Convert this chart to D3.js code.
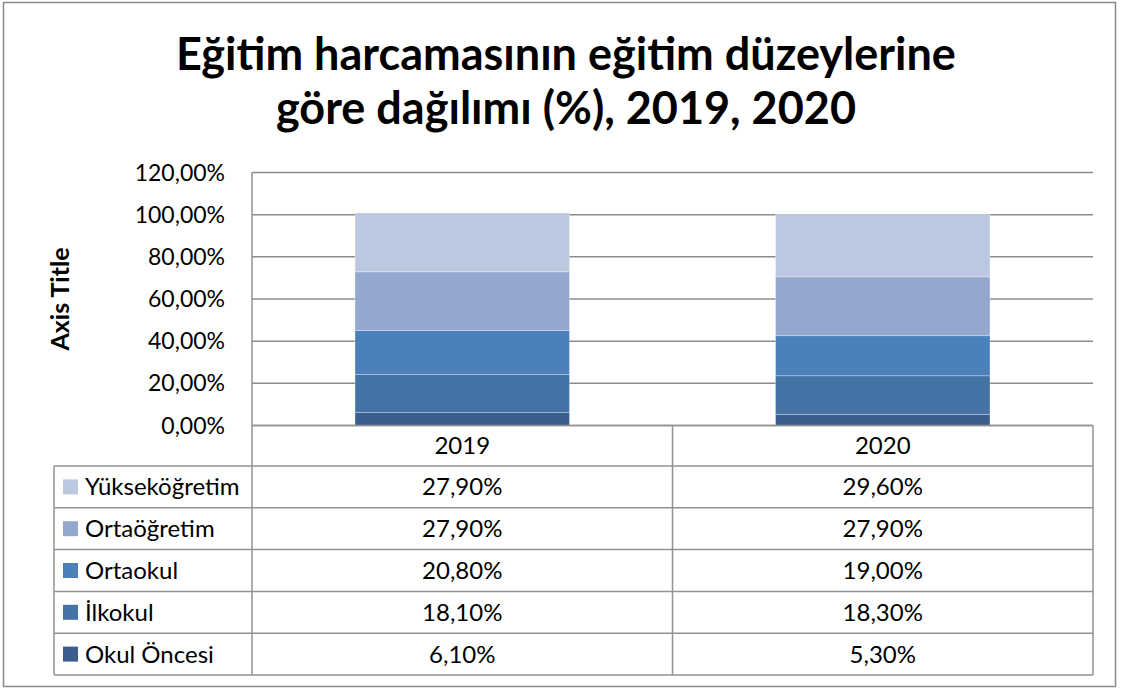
<!DOCTYPE html>
<html lang="tr">
<head>
<meta charset="UTF-8">
<title>Eğitim harcaması</title>
<script src="https://d3js.org/d3.v7.min.js"></script>
<style>
  body { margin: 0; background: #fff; font-family: Lato, "Open Sans", sans-serif; }
  svg { display: block; }
  .grid line { stroke: #8c8c8c; stroke-width: 1.5; }
  .tick-label { font-size: 23px; fill: #000; }
  .cell { font-size: 24px; fill: #000; }
  .tbl { stroke: #929292; stroke-width: 1.5; fill: none; }
</style>
</head>
<body>
<svg id="chart" width="1123" height="690"></svg>
<script>
// data
const years = ["2019", "2020"];
const series = ["Okul Öncesi", "İlkokul", "Ortaokul", "Ortaöğretim", "Yükseköğretim"];
const values2019 = [6.1, 18.1, 20.8, 27.9, 27.9];
const values2020 = [5.3, 18.3, 19.0, 27.9, 29.6];
const colors = ["#3b5e8e", "#4573a6", "#4b80ba", "#94a8cf", "#bcc8e0"];
const yTicks = [0, 20, 40, 60, 80, 100, 120];

const fmt = v => d3.format(".2f")(v).replace(".", ",") + "%";

const svg = d3.select("#chart");

// outer frame
svg.append("rect")
   .attr("x", 3.5).attr("y", 2.5)
   .attr("width", 1112).attr("height", 684)
   .attr("fill", "#fff").attr("stroke", "#8a8a8a").attr("stroke-width", 1.5);

// title
const title = svg.append("text")
   .attr("text-anchor", "middle")
   .attr("font-weight", "bold")
   .attr("font-size", 45)
   .attr("fill", "#000");
title.append("tspan").attr("x", 566).attr("y", 70).text("Eğitim harcamasının eğitim düzeylerine");
title.append("tspan").attr("x", 566).attr("y", 124).text("göre dağılımı (%), 2019, 2020");

const plot = {left: 252, right: 1093, top: 172.5, bottom: 425.5};
const tableLeft = 54;
const rowH = 41.8;

const x = d3.scaleBand().domain(years).range([plot.left, plot.right]).paddingInner(0.49).paddingOuter(0.245);
const band = d3.scaleBand().domain(years).range([plot.left, plot.right]);
const y = d3.scaleLinear().domain([0, 120]).range([plot.bottom, plot.top]);

// gridlines
svg.append("g").attr("class", "grid")
   .selectAll("line").data(yTicks).join("line")
   .attr("x1", plot.left).attr("x2", plot.right)
   .attr("y1", d => y(d)).attr("y2", d => y(d));

// y tick labels
svg.append("g").selectAll("text").data(yTicks).join("text")
   .attr("class", "tick-label")
   .attr("x", 225).attr("y", d => y(d) + 8)
   .attr("text-anchor", "end")
   .text(d => fmt(d));

// axis title
svg.append("text")
   .attr("transform", `translate(69, ${(plot.top + plot.bottom) / 2}) rotate(-90)`)
   .attr("text-anchor", "middle")
   .attr("font-weight", "bold")
   .attr("font-size", 25)
   .text("Axis Title");

// stacked bars
const rows = years.map((yr, i) => {
  const vals = i === 0 ? values2019 : values2020;
  const o = {year: yr};
  series.forEach((s, j) => o[s] = vals[j]);
  return o;
});
const stacked = d3.stack().keys(series)(rows);

svg.append("g").selectAll("g").data(stacked).join("g")
   .attr("fill", (d, i) => colors[i])
   .selectAll("rect").data(d => d).join("rect")
   .attr("x", d => x(d.data.year))
   .attr("width", x.bandwidth())
   .attr("y", d => y(d[1]))
   .attr("height", d => y(d[0]) - y(d[1]))
   .attr("stroke", "rgba(255,255,255,0.35)")
   .attr("stroke-width", 0.8);

// x axis line
svg.append("line").attr("class", "tbl")
   .attr("x1", plot.left).attr("x2", plot.right)
   .attr("y1", plot.bottom).attr("y2", plot.bottom);

// data table
const tableRows = series.slice().reverse();
const tableTop = plot.bottom;
const headerH = 40.5;
const bodyTop = tableTop + headerH;
const tableBottom = bodyTop + rowH * tableRows.length;

// vertical lines
svg.append("line").attr("class", "tbl")
   .attr("x1", plot.left).attr("x2", plot.left)
   .attr("y1", plot.top).attr("y2", tableBottom);
svg.append("line").attr("class", "tbl")
   .attr("x1", band(years[1])).attr("x2", band(years[1]))
   .attr("y1", tableTop).attr("y2", tableBottom);
svg.append("line").attr("class", "tbl")
   .attr("x1", plot.right).attr("x2", plot.right)
   .attr("y1", tableTop).attr("y2", tableBottom);
svg.append("line").attr("class", "tbl")
   .attr("x1", tableLeft).attr("x2", tableLeft)
   .attr("y1", bodyTop).attr("y2", tableBottom);

// horizontal lines
d3.range(tableRows.length + 1).forEach(i => {
  svg.append("line").attr("class", "tbl")
     .attr("x1", tableLeft).attr("x2", plot.right)
     .attr("y1", bodyTop + i * rowH).attr("y2", bodyTop + i * rowH);
});

// header
svg.append("g").selectAll("text").data(years).join("text")
   .attr("class", "cell")
   .attr("x", d => band(d) + band.bandwidth() / 2)
   .attr("y", tableTop + headerH / 2 + 8.5)
   .attr("text-anchor", "middle")
   .text(d => d);

// rows
tableRows.forEach((s, r) => {
  const j = series.indexOf(s);
  const cy = bodyTop + r * rowH + rowH / 2;
  svg.append("rect")
     .attr("x", 63).attr("y", cy - 7.5)
     .attr("width", 15).attr("height", 15)
     .attr("fill", colors[j]);
  svg.append("text").attr("class", "cell")
     .attr("x", 85).attr("y", cy + 8.5)
     .text(s);
  years.forEach((yr, i) => {
    const v = i === 0 ? values2019[j] : values2020[j];
    svg.append("text").attr("class", "cell")
       .attr("x", band(yr) + band.bandwidth() / 2)
       .attr("y", cy + 8.5)
       .attr("text-anchor", "middle")
       .text(fmt(v));
  });
});
</script>
</body>
</html>
